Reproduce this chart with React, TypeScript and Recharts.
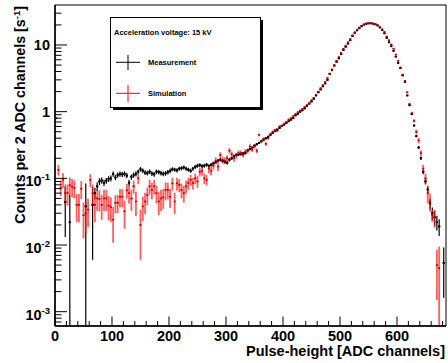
import React from 'react';
import { ScatterChart, Scatter, XAxis, YAxis, ErrorBar, ReferenceArea } from 'recharts';

// bin centres [ADC channels]
const channels = [
  2, 6, 10, 14, 18, 22, 26, 30, 34, 38,
  42, 46, 50, 54, 58, 62, 66, 70, 74, 78,
  82, 86, 90, 94, 98, 102, 106, 110, 114, 118,
  122, 126, 130, 134, 138, 142, 146, 150, 154, 158,
  162, 166, 170, 174, 178, 182, 186, 190, 194, 198,
  202, 206, 210, 214, 218, 222, 226, 230, 234, 238,
  242, 246, 250, 254, 258, 262, 266, 270, 274, 278,
  282, 286, 290, 294, 298, 302, 306, 310, 314, 318,
  322, 326, 330, 334, 338, 342, 346, 350, 354, 358,
  362, 366, 370, 374, 378, 382, 386, 390, 394, 398,
  402, 406, 410, 414, 418, 422, 426, 430, 434, 438,
  442, 446, 450, 454, 458, 462, 466, 470, 474, 478,
  482, 486, 490, 494, 498, 502, 506, 510, 514, 518,
  522, 526, 530, 534, 538, 542, 546, 550, 554, 558,
  562, 566, 570, 574, 578, 582, 586, 590, 594, 598,
  602, 606, 610, 614, 618, 622, 626, 630, 634, 638,
  642, 646, 650, 654, 658, 662, 666, 670, 674, 678,
  682,
];

// counts per 2 ADC channels [1/s], null = empty bin
const measurement: (number | null)[] = [
  null, null, null, null, 0.044, null, 0.022, null, null, null,
  null, null, null, 0.038, null, null, 0.04, 0.06, 0.076, 0.09,
  0.093, 0.086, 0.092, 0.098, 0.1, 0.116, 0.103, 0.112, 0.116, 0.115,
  0.117, 0.11, 0.086, 0.105, 0.112, 0.117, 0.126, 0.137, 0.13, 0.122,
  0.12, 0.126, 0.118, 0.115, 0.126, 0.124, 0.12, 0.117, 0.119, 0.124,
  0.13, 0.137, 0.135, 0.132, 0.14, 0.142, 0.146, 0.14, 0.135, 0.13,
  0.14, 0.148, 0.155, 0.158, 0.152, 0.155, 0.16, 0.153, 0.16, 0.168,
  0.176, 0.184, 0.19, 0.182, 0.178, 0.172, 0.19, 0.2, 0.215, 0.224,
  0.228, 0.232, 0.236, 0.24, 0.262, 0.275, 0.29, 0.31, 0.325, 0.34,
  0.36, 0.38, 0.4, 0.42, 0.45, 0.48, 0.51, 0.54, 0.57, 0.61,
  0.64, 0.68, 0.72, 0.76, 0.8, 0.88, 0.93, 1.0, 1.05, 1.12,
  1.22, 1.32, 1.42, 1.56, 1.75, 1.95, 2.15, 2.4, 2.65, 3.0,
  3.7, 4.2, 4.9, 5.6, 6.3, 7.3, 8.4, 9.4, 10.5, 11.8,
  13.6, 15.2, 16.6, 17.9, 19.2, 20.2, 20.8, 21.1, 21.1, 20.9,
  20.4, 19.6, 18.3, 16.8, 15.0, 12.8, 11.0, 9.6, 8.2, 6.7,
  5.4, 4.5, 3.5, 2.8, 1.75, 1.25, 0.92, 0.62, 0.43, 0.29,
  0.2, 0.125, 0.09, 0.068, 0.042, 0.03, 0.026, 0.022, 0.019, null,
  0.0054,
];

// relative error of the measurement [%]
const measurementErrPct = [
  0, 0, 0, 0, 70, 0, 160, 0, 0, 0,
  0, 0, 0, 120, 0, 0, 85, 20, 15, 12,
  11, 11, 10, 10, 10, 9, 9, 9, 9, 9,
  9, 9, 11, 9, 9, 9, 8, 8, 8, 8,
  8, 8, 8, 8, 8, 8, 8, 8, 8, 8,
  8, 7, 7, 7, 7, 7, 7, 7, 7, 7,
  7, 7, 7, 7, 7, 7, 6, 6, 6, 6,
  6, 6, 6, 6, 6, 6, 6, 5, 5, 5,
  5, 5, 5, 5, 5, 5, 4, 4, 4, 4,
  4, 4, 4, 4, 4, 4, 3, 3, 3, 3,
  3, 3, 3, 3, 3, 3, 3, 3, 3, 3,
  2, 2, 2, 2, 2, 2, 2, 2, 2, 2,
  2, 2, 1, 1, 1, 1, 1, 1, 1, 1,
  1, 1, 1, 1, 1, 1, 1, 1, 1, 1,
  1, 1, 1, 1, 1, 1, 1, 1, 1, 1,
  1, 2, 2, 2, 2, 2, 3, 3, 4, 5,
  6, 8, 10, 12, 18, 22, 25, 25, 28, 0,
  70,
];

const simulation: (number | null)[] = [
  0.8, 0.134, 0.072, 0.095, 0.06, 0.06, 0.079, 0.075, 0.072, 0.04,
  0.04, 0.07, 0.028, 0.03, 0.034, 0.095, 0.06, 0.04, 0.05, 0.049,
  0.04, 0.05, 0.05, 0.039, 0.037, 0.024, 0.043, 0.043, 0.053, 0.053,
  0.032, 0.066, 0.06, 0.05, 0.076, 0.045, 0.1, 0.02, 0.038, 0.045,
  0.056, 0.076, 0.067, 0.076, 0.06, 0.045, 0.05, 0.052, 0.067, 0.067,
  0.053, 0.084, 0.045, 0.084, 0.08, 0.067, 0.06, 0.076, 0.085, 0.095,
  0.085, 0.1, 0.09, 0.125, 0.13, 0.1, 0.095, 0.14, 0.13, 0.155,
  0.184, 0.15, 0.224, 0.19, 0.185, 0.2, 0.26, 0.23, 0.2, 0.22,
  0.24, 0.24, 0.225, 0.25, 0.26, 0.3, 0.27, 0.3, 0.26, 0.45,
  0.36, 0.39, 0.33, 0.4, 0.46, 0.5, 0.53, 0.52, 0.6, 0.62,
  0.66, 0.7, 0.76, 0.8, 0.86, 0.92, 0.98, 1.04, 1.1, 1.18,
  1.26, 1.34, 1.48, 1.62, 1.8, 2.0, 2.25, 2.5, 2.8, 3.2,
  3.7, 4.3, 5.0, 5.8, 6.6, 7.6, 8.8, 9.8, 11.0, 12.3,
  14.0, 15.6, 17.0, 18.3, 19.5, 20.4, 21.0, 21.2, 21.2, 21.0,
  20.5, 19.8, 18.6, 17.2, 15.8, 13.4, 11.8, 10.2, 8.8, 7.2,
  5.8, 4.6, 3.6, 2.9, 1.95, 1.3, 0.95, 0.73, 0.5, 0.37,
  0.24, 0.14, 0.1, 0.06, 0.045, 0.028, 0.026, 0.005, 0.0045, null,
  null,
];

const simulationErrPct = [
  4, 18, 25, 25, 35, 35, 30, 30, 30, 45,
  45, 30, 55, 50, 45, 22, 35, 45, 35, 35,
  40, 35, 35, 40, 40, 55, 30, 30, 30, 30,
  45, 25, 30, 35, 22, 40, 18, 70, 40, 35,
  30, 25, 28, 25, 30, 38, 35, 33, 30, 28,
  32, 22, 35, 22, 22, 25, 28, 22, 20, 18,
  20, 18, 20, 15, 15, 18, 18, 14, 15, 13,
  12, 14, 10, 12, 12, 11, 9, 10, 11, 10,
  9, 9, 9, 9, 8, 8, 8, 7, 8, 5,
  6, 6, 6, 5, 5, 5, 5, 5, 4, 4,
  4, 4, 4, 4, 3, 3, 3, 3, 3, 3,
  3, 3, 3, 2, 2, 2, 2, 2, 2, 2,
  2, 2, 1, 1, 1, 1, 1, 1, 1, 1,
  1, 1, 1, 1, 1, 1, 1, 1, 1, 1,
  1, 1, 1, 1, 1, 1, 1, 1, 1, 1,
  1, 1, 2, 2, 3, 4, 5, 5, 8, 9,
  10, 14, 18, 30, 30, 20, 30, 70, 110, 0,
  0,
];

const BIN_HALF_WIDTH = 2;
const X_MAX = 686;
const Y_MIN = 6.1e-4;
const Y_MAX = 39.8;

const xMajorTicks = [0, 100, 200, 300, 400, 500, 600];
const yDecades = [0.001, 0.01, 0.1, 1, 10];

const FONT = '"Liberation Sans", Arial, Helvetica, sans-serif';

// minor ticks every 20 channels, and 1..9 per decade
const xTicks: number[] = [];
for (let t = 0; t <= X_MAX; t += 20) xTicks.push(t);
const yTicks: number[] = [];
for (let e = -4; e <= 1; e++) {
  for (let m = 1; m <= 9; m++) {
    const t = m * Math.pow(10, e);
    if (t >= Y_MIN && t <= Y_MAX) yTicks.push(Number(t.toPrecision(3)));
  }
}

function buildRows(values: (number | null)[], errPct: number[]) {
  const rows: any[] = [];
  channels.forEach((ch, i) => {
    const v = values[i];
    if (v == null) return;
    const e = (v * errPct[i]) / 100;
    rows.push({
      ch,
      v,
      yErr: [Math.min(e, v - Y_MIN), Math.min(e, Y_MAX - v)],
      xErr: [BIN_HALF_WIDTH, BIN_HALF_WIDTH],
    });
  });
  return rows;
}

const measurementRows = buildRows(measurement, measurementErrPct);
const simulationRows = buildRows(simulation, simulationErrPct);

const getYErr = (d: any) => d?.yErr ?? d?.payload?.yErr;
const getXErr = (d: any) => d?.xErr ?? d?.payload?.xErr;

function XTick({ x, y, payload }: any) {
  const v = payload.value;
  const major = xMajorTicks.includes(v);
  return (
    <g>
      <line x1={x} x2={x} y1={y} y2={y - (major ? 9.5 : 5)} stroke="#000" strokeWidth={1} />
      {major && (
        <text x={x} y={y + 14.7} textAnchor="middle" fontFamily={FONT} fontWeight="bold" fontSize={14.5} fill="#000">
          {v}
        </text>
      )}
    </g>
  );
}

function YTick({ x, y, payload }: any) {
  const v = payload.value;
  const major = yDecades.some((d) => Math.abs(d - v) / d < 1e-6);
  const exp = Math.round(Math.log10(v));
  let label = null;
  if (major) {
    if (exp === 0 || exp === 1) {
      label = (
        <text x={x - 5} y={y + 5.3} textAnchor="end" fontFamily={FONT} fontWeight="bold" fontSize={14.5} fill="#000">
          {exp === 0 ? '1' : '10'}
        </text>
      );
    } else {
      label = (
        <text x={x - 5} y={y + 8} textAnchor="end" fontFamily={FONT} fontWeight="bold" fontSize={14.5} fill="#000">
          10
          <tspan dy={-6} fontSize={9.5}>{exp}</tspan>
        </text>
      );
    }
  }
  return (
    <g>
      <line x1={x} x2={x + (major ? 12 : 6.5)} y1={y} y2={y} stroke="#000" strokeWidth={1} />
      {label}
    </g>
  );
}

const blackMarker = (p: any) => <rect x={p.cx - 1} y={p.cy - 1} width={2} height={2} fill="#000" />;
const redMarker = (p: any) => <rect x={p.cx - 0.8} y={p.cy - 0.8} width={1.6} height={1.6} fill="#c00000" />;

function Overlay() {
  const txt = { fontFamily: FONT, fontWeight: 'bold' as const, fill: '#000' };
  return (
    <svg width={448} height={363} style={{ position: 'absolute', left: 0, top: 0, pointerEvents: 'none' }}>
      {/* legend box with shadow */}
      <rect x={113} y={20} width={150} height={90} fill="#000" />
      <rect x={110.5} y={17.5} width={150} height={90} fill="#fff" stroke="#000" strokeWidth={1} />
      <text x={114} y={34.5} fontSize={7.5} {...txt}>Acceleration voltage: 15 kV</text>
      <line x1={116} x2={140} y1={62.3} y2={62.3} stroke="#000" strokeWidth={1} />
      <line x1={128} x2={128} y1={55} y2={70} stroke="#000" strokeWidth={1} />
      <text x={148} y={65} fontSize={7.5} {...txt}>Measurement</text>
      <line x1={116} x2={140} y1={93.3} y2={93.3} stroke="#ff0000" strokeWidth={1} />
      <line x1={128} x2={128} y1={85} y2={102} stroke="#ff0000" strokeWidth={1} />
      <text x={148} y={96} fontSize={7.5} {...txt}>Simulation</text>

      {/* axis titles */}
      <text x={445} y={356} textAnchor="end" fontSize={14.5} {...txt}>
        Pulse-height [ADC channels]
      </text>
      <text transform="translate(25,6) rotate(-90)" textAnchor="end" fontSize={14.3} {...txt}>
        Counts per 2 ADC channels [s
        <tspan dy={-5} fontSize={9.5}>-1</tspan>
        <tspan dy={5}>]</tspan>
      </text>
    </svg>
  );
}

export default function App() {
  return (
    <div style={{ position: 'absolute', left: 0, top: 0, width: 448, height: 363, background: '#fff' }}>
      <ScatterChart width={448} height={363} margin={{ top: 5, right: 2, bottom: 0, left: 0 }}>
        <XAxis
          dataKey="ch"
          type="number"
          domain={[0, X_MAX]}
          allowDataOverflow
          ticks={xTicks}
          interval={0}
          height={37}
          tickSize={0}
          tickMargin={0}
          tickLine={false}
          axisLine={{ stroke: '#000', strokeWidth: 1.5 }}
          tick={<XTick />}
        />
        <YAxis
          dataKey="v"
          type="number"
          scale="log"
          domain={[Y_MIN, Y_MAX]}
          allowDataOverflow
          ticks={yTicks}
          interval={0}
          width={55}
          tickSize={0}
          tickMargin={0}
          tickLine={false}
          axisLine={{ stroke: '#000', strokeWidth: 1.5 }}
          tick={<YTick />}
        />
        <ReferenceArea x1={0} x2={X_MAX} y1={Y_MIN} y2={Y_MAX} fill="none" stroke="#000" strokeWidth={1} />
        <Scatter data={measurementRows} shape={blackMarker} isAnimationActive={false}>
          <ErrorBar dataKey={getYErr} direction="y" width={0} stroke="#000" strokeWidth={1.2} isAnimationActive={false} />
          <ErrorBar dataKey={getXErr} direction="x" width={0} stroke="#000" strokeWidth={1.2} isAnimationActive={false} />
        </Scatter>
        <Scatter data={simulationRows} shape={redMarker} isAnimationActive={false}>
          <ErrorBar dataKey={getYErr} direction="y" width={0} stroke="#ff1a1a" strokeOpacity={0.7} strokeWidth={1.8} isAnimationActive={false} />
          <ErrorBar dataKey={getXErr} direction="x" width={0} stroke="#ff1a1a" strokeWidth={1.2} isAnimationActive={false} />
        </Scatter>
      </ScatterChart>
      <Overlay />
    </div>
  );
}
